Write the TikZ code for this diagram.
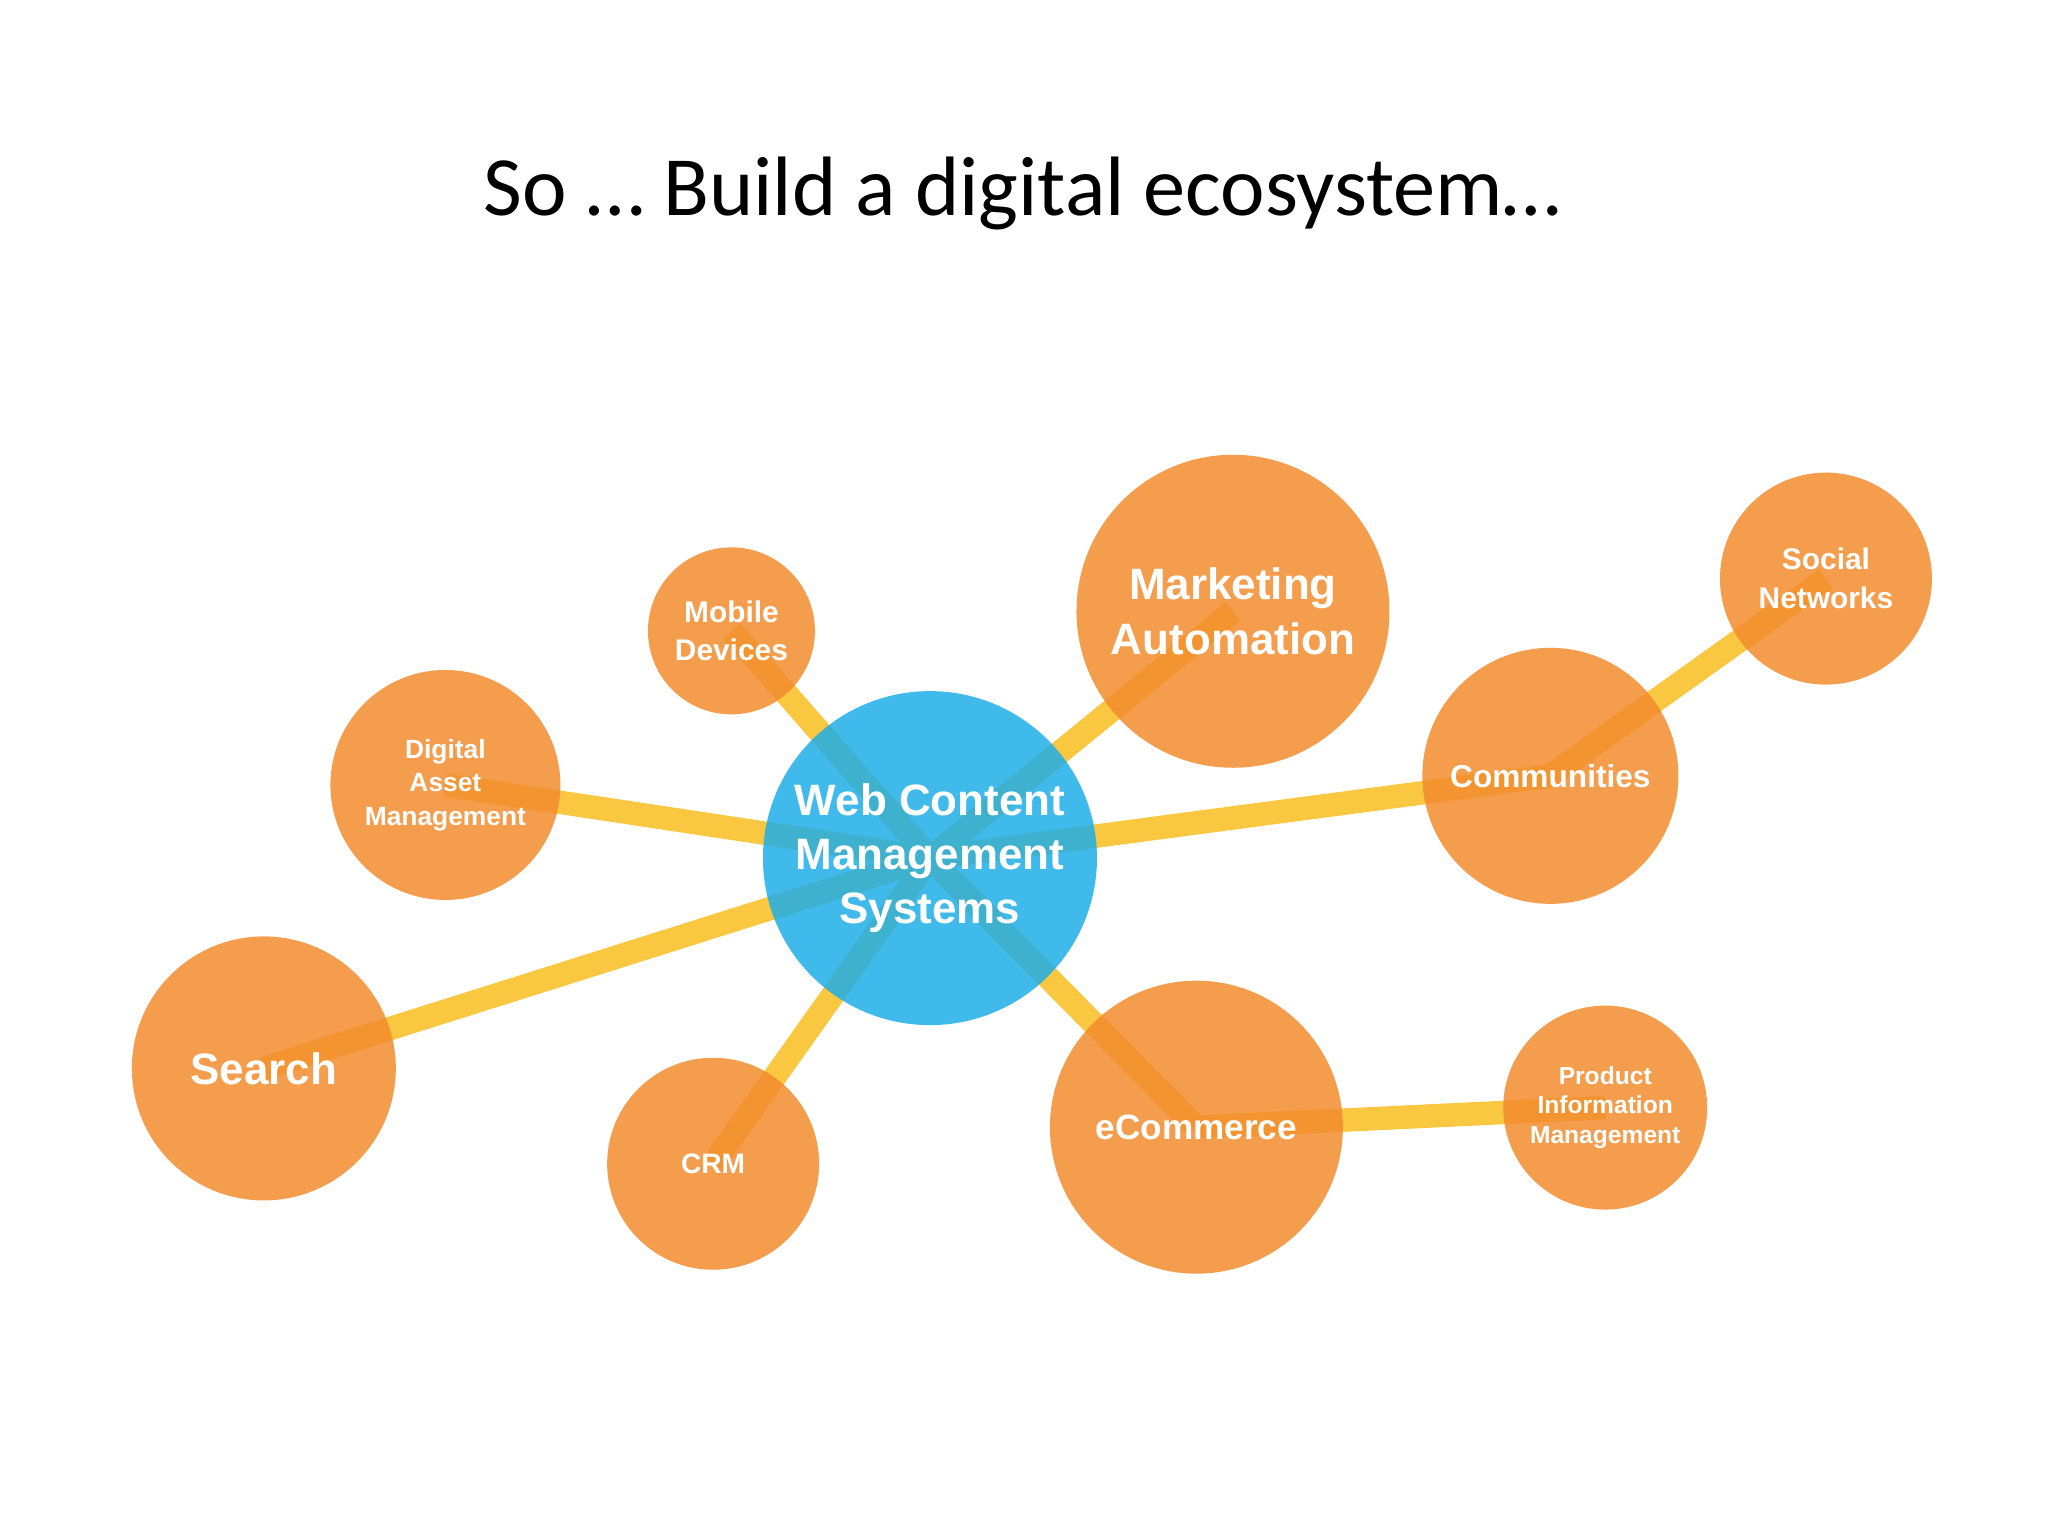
\documentclass[tikz,border=0pt]{standalone}
\usepackage{fontspec}
\setmainfont{Liberation Sans}
\newfontfamily\titlefont{Carlito}
\definecolor{orng}{HTML}{F28C2E}
\definecolor{blu}{HTML}{1EAEE8}
\definecolor{yel}{HTML}{F9C840}
\begin{document}
\begin{tikzpicture}[x=0.01306cm,y=-0.01306cm,
  bub/.style={circle,fill=orng,fill opacity=0.85,text opacity=1,text=white,font=\bfseries,align=center,inner sep=0pt},
  link/.style={yel,line width=0.235cm}]
\useasboundingbox[fill=white] (0,0) rectangle (1568,1176);
\node[font=\titlefont\fontsize{24}{28}\selectfont] (title) at (783,148) {So … Build a digital ecosystem…};
\coordinate (w) at (712,657);
\coordinate (mo) at (560,483);
\coordinate (ma) at (944,468);
\coordinate (so) at (1398,443);
\coordinate (di) at (341,601);
\coordinate (co) at (1187,594);
\coordinate (se) at (202,818);
\coordinate (cr) at (546,891);
\coordinate (ec) at (916,863);
\coordinate (pi) at (1229,848);
\foreach \t in {mo,ma,di,co,se,cr,ec}{\draw[link] (w) -- (\t);}
\draw[link] (co) -- (so);
\draw[link] (ec) -- (pi);
\node[bub,fill=blu,minimum size=3.34cm,font=\bfseries\fontsize{12.5}{15.5}\selectfont] (W) at (w) {Web Content\\Management\\Systems};
\node[bub,minimum size=1.67cm,font=\bfseries\fontsize{8.5}{11}\selectfont] (MO) at (mo) {Mobile\\Devices};
\node[bub,minimum size=3.13cm,font=\bfseries\fontsize{12.5}{15.5}\selectfont] (MA) at (ma) {Marketing\\Automation};
\node[bub,minimum size=2.12cm,font=\bfseries\fontsize{8.5}{11}\selectfont] (SO) at (so) {Social\\Networks};
\node[bub,minimum size=2.30cm,font=\bfseries\fontsize{7.5}{9.5}\selectfont] (DI) at (di) {Digital\\Asset\\Management};
\node[bub,minimum size=2.56cm,font=\bfseries\fontsize{9}{11}\selectfont] (CO) at (co) {Communities};
\node[bub,minimum size=2.64cm,font=\bfseries\fontsize{12.5}{15}\selectfont] (SE) at (se) {Search};
\node[bub,minimum size=2.12cm,font=\bfseries\fontsize{8}{10}\selectfont] (CR) at (cr) {CRM};
\node[bub,minimum size=2.93cm,font=\bfseries\fontsize{10}{12}\selectfont] (EC) at (ec) {eCommerce};
\node[bub,minimum size=2.04cm,font=\bfseries\fontsize{7}{8.5}\selectfont] (PI) at (pi) {Product\\Information\\Management};
\end{tikzpicture}
\end{document}
